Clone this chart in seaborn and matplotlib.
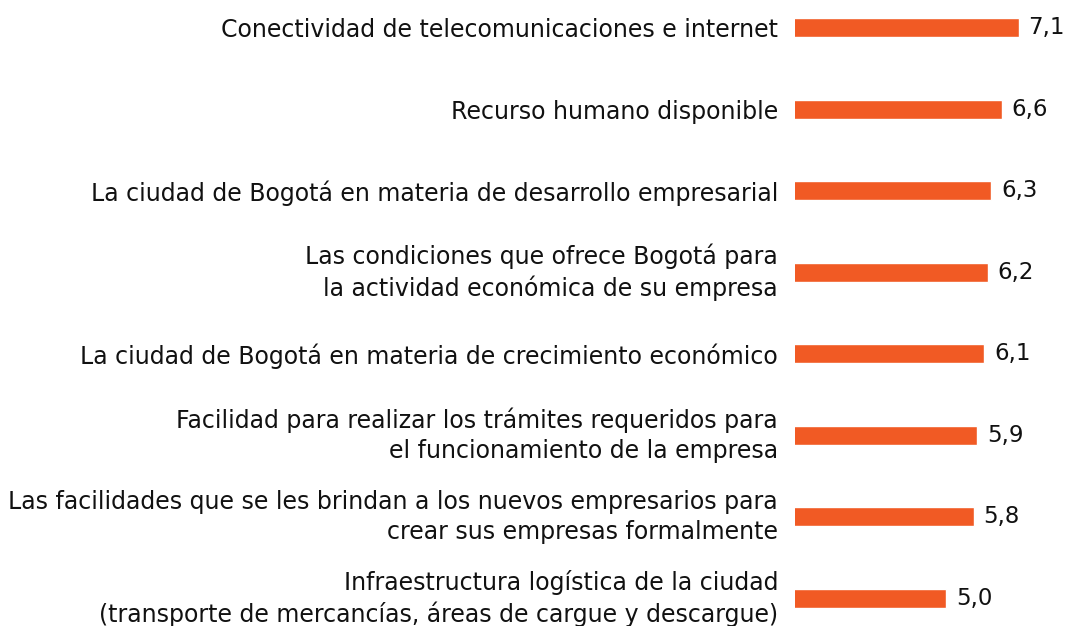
import matplotlib
matplotlib.use("Agg")
import matplotlib.pyplot as plt
import seaborn as sns
import pandas as pd

categories = [
    "Conectividad de telecomunicaciones e internet",
    "Recurso humano disponible",
    "La ciudad de Bogotá en materia de desarrollo empresarial",
    "Las condiciones que ofrece Bogotá para\nla actividad económica de su empresa",
    "La ciudad de Bogotá en materia de crecimiento económico",
    "Facilidad para realizar los trámites requeridos para\nel funcionamiento de la empresa",
    "Las facilidades que se les brindan a los nuevos empresarios para\ncrear sus empresas formalmente",
    "Infraestructura logística de la ciudad\n(transporte de mercancías, áreas de cargue y descargue)",
]
values = [7.1, 6.6, 6.3, 6.2, 6.1, 5.9, 5.8, 5.0]
value_labels = ["7,1", "6,6", "6,3", "6,2", "6,1", "5,9", "5,8", "5,0"]

df = pd.DataFrame({"cat": categories, "val": values})

sns.set_theme(style="white")
plt.rcParams["font.family"] = ["DejaVu Sans"]

W, H = 1069, 626
fig = plt.figure(figsize=(W / 100, H / 100), dpi=100)
ax = fig.add_axes([795 / W, 0, (W - 795) / W, 1])

sns.barplot(data=df, y="cat", x="val", orient="h", color="#F15A24",
            width=0.233, saturation=1, ax=ax)

ax.set_xlim(0.629, 0.629 + 274 / 34.6)
ax.set_ylim(7.337, -0.337)
ax.set_xlabel("")
ax.set_ylabel("")
ax.set_xticks([])
for s in ax.spines.values():
    s.set_visible(False)
ax.tick_params(axis="y", length=0, pad=12.2, labelsize=17, labelcolor="#111111")
for t in ax.get_yticklabels():
    t.set_linespacing(1.3)
    t.set_horizontalalignment("right")
    if "\n" in t.get_text():
        t.set_verticalalignment("center")
    else:
        t.set_verticalalignment("center_baseline")

for i, (v, lab) in enumerate(zip(values, value_labels)):
    ax.annotate(lab, xy=(v, i), xytext=(7, 0), textcoords="offset points",
                ha="left", va="center", fontsize=16.5, color="#111111")

fig.savefig("out.png", dpi=100)
